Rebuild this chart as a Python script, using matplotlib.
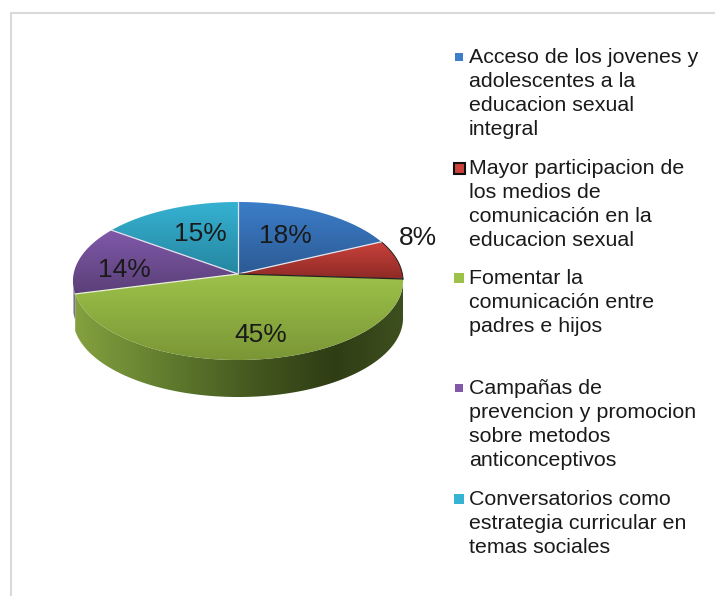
import numpy as np
import matplotlib
matplotlib.use("Agg")
import matplotlib.pyplot as plt
from matplotlib.colors import LinearSegmentedColormap
from matplotlib.patches import Polygon, Rectangle

plt.rcParams['font.family'] = ['Liberation Sans', 'DejaVu Sans']

values = [18, 8, 45, 14, 15]
labels = ["Acceso de los jovenes y\nadolescentes a la\neducacion sexual\nintegral",
          "Mayor participacion de\nlos medios de\ncomunicación en la\neducacion sexual",
          "Fomentar la\ncomunicación entre\npadres e hijos",
          "Campañas de\nprevencion y promocion\nsobre metodos\nanticonceptivos",
          "Conversatorios como\nestrategia curricular en\ntemas sociales"]
top_colors = ['#3c7ec9', '#cb423c', '#9dc24a', '#8059a9', '#36b2d2']
bottom_colors = ['#2c5a94', '#8e2a26', '#7a9636', '#5a3f78', '#2586a0']
sep_colors = ['#dfe8f2', '#dfe8f2', '#222222', '#e8f0d8', '#e8e0f0']
label_pos = [(285, 236), (418, 238), (261, 335), (124, 270), (200, 234)]
legend_y = [57, 168, 278, 388, 499]
marker_size = [8, 11, 10, 8, 10]

# pie geometry in pixels
cx, cy = 238, 274
rx, ry, k = 164.4, 78.4, 0.0885
depth = 37


def project(theta):
    t = np.radians(theta)
    w = 1 + k * np.cos(t)
    return cx + rx * np.sin(t) / w, cy - ry * np.cos(t) / w


def gradient(ax, poly, cmap, horizontal=False):
    x0, x1 = 70, 410
    y0, y1 = poly.get_xy()[:, 1].min(), poly.get_xy()[:, 1].max()
    g = np.linspace(0, 1, 256)
    g = g.reshape(1, -1) if horizontal else g.reshape(-1, 1)
    im = ax.imshow(g, cmap=cmap, extent=(x0, x1, y1, y0), aspect='auto',
                   origin='upper', zorder=poly.get_zorder() - 0.1)
    ax.add_patch(poly)
    im.set_clip_path(poly)


fig = plt.figure(figsize=(7.15, 5.96), dpi=100)
ax = fig.add_axes([0, 0, 1, 1])

# chart frame
ax.plot([11, 11, 715], [596, 13, 13], color='#d9d9d9', lw=1.5, zorder=1)

wall = LinearSegmentedColormap.from_list('wall', [
    (0.00, '#86a340'), (0.30, '#5f7a2d'), (0.55, '#43561f'),
    (0.78, '#2f3d14'), (1.00, '#3f5120')])

edges = np.cumsum([0] + values) / sum(values) * 360

# side wall: the green slice and a thin purple sliver behind it
th = np.linspace(edges[2], edges[3], 200)
x, y = project(th)
pts = np.r_[np.c_[x, y], np.c_[x, y + depth][::-1]]
gradient(ax, Polygon(pts, fc='none', ec='none', zorder=3), wall, True)

th = np.linspace(edges[3], edges[3] + 5, 20)
x, y = project(th)
pts = np.r_[np.c_[x, y], np.c_[x, y + depth * 0.7][::-1]]
ax.add_patch(Polygon(pts, fc='#7d6f96', ec='none', zorder=2))

# top face
for i, v in enumerate(values):
    th = np.linspace(edges[i], edges[i + 1], 120)
    x, y = project(th)
    pts = np.r_[[[cx, cy]], np.c_[x, y]]
    cmap = LinearSegmentedColormap.from_list('c%d' % i, [top_colors[i], bottom_colors[i]])
    gradient(ax, Polygon(pts, fc='none', ec='none', zorder=5), cmap)
    if i == 1:
        ax.plot(x, y, color='#222222', lw=0.7, zorder=6)

# slice separators
for i, v in enumerate(values):
    x, y = project(edges[i])
    ax.plot([cx, x], [cy, y], color=sep_colors[i], lw=0.9, zorder=7)

for v, (x, y) in zip(values, label_pos):
    ax.text(x, y, "%d%%" % v, fontsize=19, color='#1a1a1a', ha='center',
            va='center', zorder=10)

# legend
for i, lab in enumerate(labels):
    s = marker_size[i]
    ax.add_patch(Rectangle((459 - s / 2, legend_y[i] - s / 2), s, s,
                           fc=top_colors[i], ec='#111111' if i == 1 else 'none',
                           lw=1.5, zorder=5))
    ax.text(469, legend_y[i] - 9, lab, fontsize=15.4, color='#1a1a1a', ha='left',
            va='top', linespacing=1.33, zorder=10)

ax.set_xlim(0, 715)
ax.set_ylim(596, 0)
ax.axis('off')
fig.savefig('out.png', dpi=100)
